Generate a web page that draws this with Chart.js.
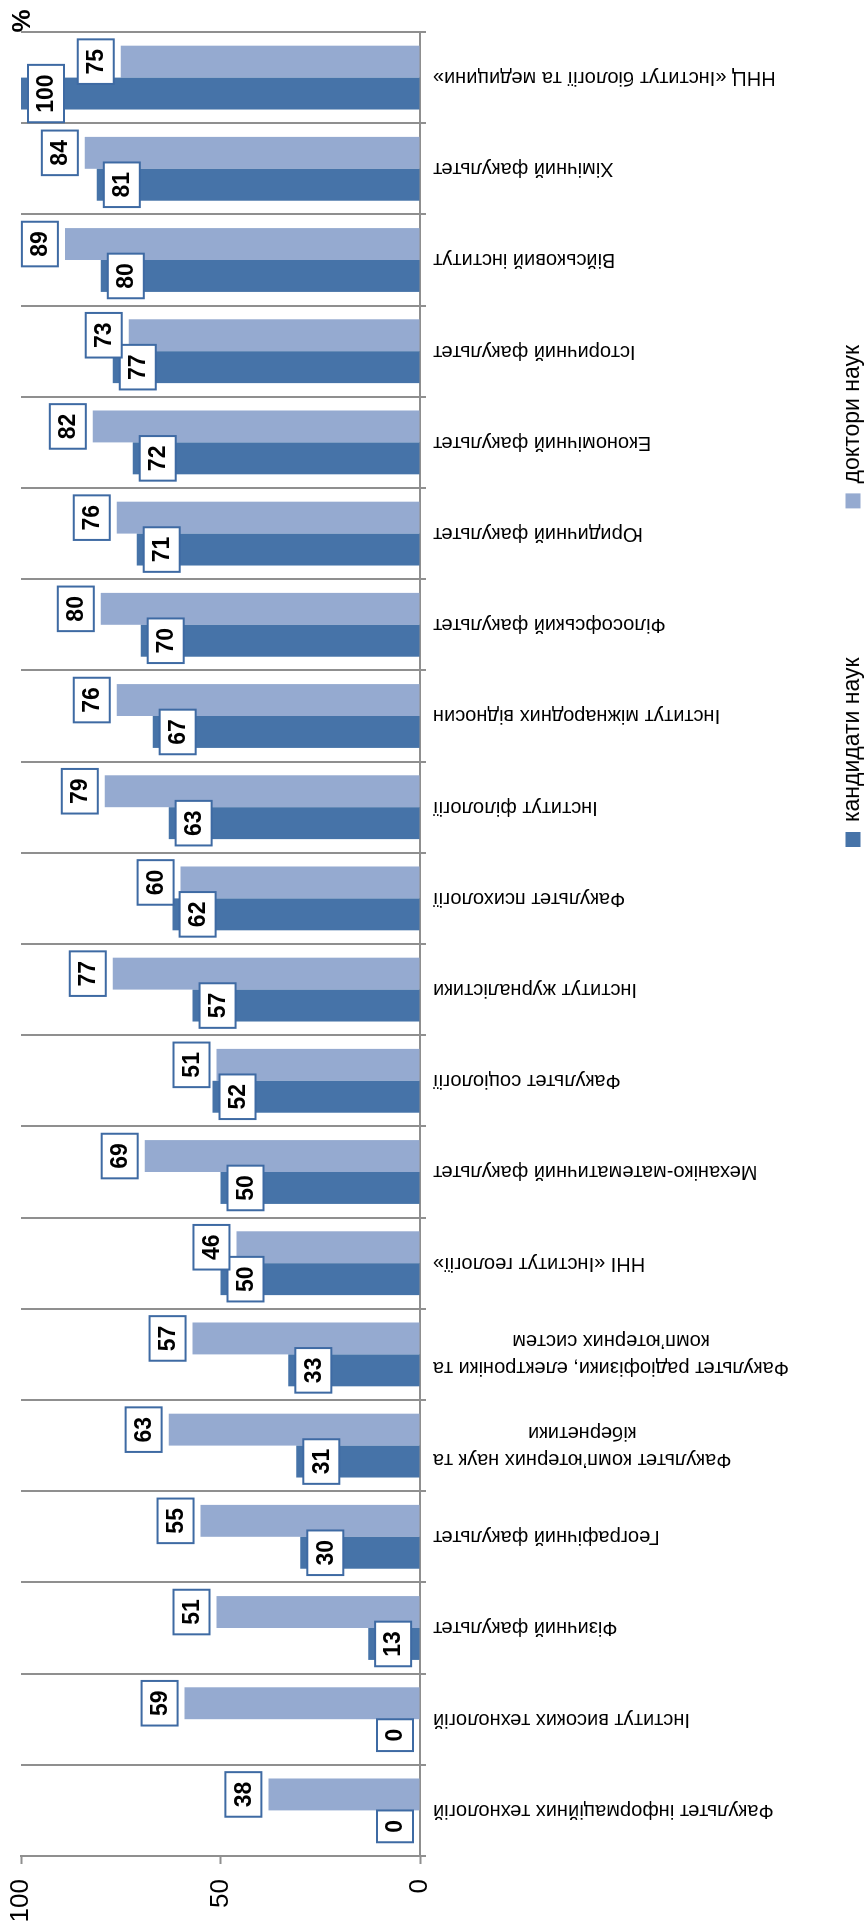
<!DOCTYPE html>
<html><head><meta charset="utf-8">
<script src="https://cdn.jsdelivr.net/npm/chart.js@4.4.0/dist/chart.umd.min.js"></script>
<style>
html,body{margin:0;padding:0;background:#fff;width:867px;height:1928px;overflow:hidden;}
#wrap{position:absolute;left:0;top:0;width:1928px;height:867px;transform-origin:0 0;transform:translateY(1928px) rotate(-90deg);}
canvas{display:block;}
</style></head><body>
<div id="wrap"><canvas id="c" width="1928" height="867"></canvas></div>
<script>
const categories = [
  "Факультет інформаційних технологій",
  "Інститут високих технологій",
  "Фізичний факультет",
  "Географічний факультет",
  ["Факультет комп’ютерних наук та", "кібернетики"],
  ["Факультет радіофізики, електроніки та", "комп’ютерних систем"],
  "ННІ «Інститут геології»",
  "Механіко-математичний факультет",
  "Факультет соціології",
  "Інститут журналістики",
  "Факультет психології",
  "Інститут філології",
  "Інститут міжнародних відносин",
  "Філософський факультет",
  "Юридичний факультет",
  "Економічний факультет",
  "Історичний факультет",
  "Військовий інститут",
  "Хімічний факультет",
  "ННЦ «Інститут біології та медицини»"
];
const candidates = [0, 0, 13, 30, 31, 33, 50, 50, 52, 57, 62, 63, 67, 70, 71, 72, 77, 80, 81, 100];
const doctors    = [38, 59, 51, 55, 63, 57, 46, 69, 51, 77, 60, 79, 76, 80, 76, 82, 73, 89, 84, 75];
const seriesNames = ["кандидати наук", "доктори наук"];
const valueTicks = [0, 50, 100];
const unitLabel = "%";

const FONT = "'Liberation Sans', Arial, sans-serif";
const GRID = '#8f8f8f';

const catLabelPlugin = {
  id: 'catLabels',
  afterDraw(chart) {
    const ctx = chart.ctx, xs = chart.scales.x, area = chart.chartArea;
    ctx.save();
    ctx.font = '20px ' + FONT;
    ctx.fillStyle = '#000';
    ctx.textAlign = 'center';
    ctx.textBaseline = 'middle';
    const lh = 27;
    categories.forEach((lab, i) => {
      const lines = Array.isArray(lab) ? lab : [lab];
      const maxW = Math.max(...lines.map(l => ctx.measureText(l).width));
      const px = xs.getPixelForValue(i);
      ctx.save();
      ctx.translate(px, area.bottom + 13);
      ctx.rotate(-Math.PI / 2);
      lines.forEach((l, j) => {
        ctx.fillText(l, -maxW / 2, (j - (lines.length - 1) / 2) * lh);
      });
      ctx.restore();
    });
    ctx.restore();
  }
};

const valueLabelPlugin = {
  id: 'valueLabels',
  afterDatasetsDraw(chart) {
    const ctx = chart.ctx;
    ctx.save();
    ctx.font = 'bold 23px ' + FONT;
    ctx.textAlign = 'center';
    ctx.textBaseline = 'middle';
    const H = 36, gap = 7;
    chart.data.datasets.forEach((ds, di) => {
      const meta = chart.getDatasetMeta(di);
      meta.data.forEach((bar, i) => {
        const txt = String(ds.data[i]);
        const w = ctx.measureText(txt).width + 19;
        let top;
        if (di === 0) top = Math.min(bar.y + gap, bar.base - gap - H);
        else top = bar.y - gap - H;
        const left = bar.x - w / 2;
        ctx.fillStyle = '#fff';
        ctx.fillRect(left, top, w, H);
        ctx.lineWidth = 2;
        ctx.strokeStyle = '#3E6AA3';
        ctx.strokeRect(left, top, w, H);
        ctx.fillStyle = '#000';
        ctx.fillText(txt, bar.x, top + H / 2 + 1);
      });
    });
    ctx.restore();
  }
};

const legendPlugin = {
  id: 'legendDraw',
  afterDraw(chart) {
    const ctx = chart.ctx;
    ctx.save();
    ctx.font = '23px ' + FONT;
    ctx.textBaseline = 'middle';
    ctx.textAlign = 'left';
    let x = 1081;
    const cy = 853;
    chart.data.datasets.forEach(ds => {
      ctx.fillStyle = ds.backgroundColor;
      ctx.fillRect(x, cy - 7.5, 15, 15);
      ctx.fillStyle = '#000';
      ctx.fillText(ds.label, x + 25, cy);
      x += 25 + ctx.measureText(ds.label).width + 149;
    });
    ctx.fillStyle = '#000';
    ctx.font = 'bold 26px ' + FONT;
    ctx.textAlign = 'center';
    ctx.fillText(unitLabel, 1907, 23);
    ctx.restore();
  }
};

new Chart(document.getElementById('c'), {
  type: 'bar',
  data: {
    labels: categories,
    datasets: [
      { label: seriesNames[0], data: candidates, backgroundColor: '#4673A8', borderWidth: 0, categoryPercentage: 0.7, barPercentage: 1.0 },
      { label: seriesNames[1], data: doctors, backgroundColor: '#95AAD0', borderWidth: 0, categoryPercentage: 0.7, barPercentage: 1.0 }
    ]
  },
  options: {
    responsive: false,
    animation: false,
    layout: { padding: { top: 21, right: 32, left: 0, bottom: 0 } },
    plugins: { legend: { display: false }, tooltip: { enabled: false } },
    scales: {
      x: {
        type: 'category',
        offset: true,
        grid: { offset: true, color: GRID, lineWidth: 2, drawTicks: true, tickLength: 6, tickColor: GRID, tickWidth: 2 },
        border: { display: true, color: GRID, width: 2 },
        ticks: { display: false },
        afterFit(s) { s.height = 447; s.paddingLeft = 0; s.paddingRight = 0; }
      },
      y: {
        min: 0, max: 100,
        afterBuildTicks(s) { s.ticks = valueTicks.map(v => ({ value: v })); },
        grid: { drawOnChartArea: false, drawTicks: true, tickLength: 8, tickColor: GRID, tickWidth: 2, color: GRID },
        border: { display: true, color: GRID, width: 2 },
        ticks: { font: { size: 26, family: FONT }, color: '#000', padding: 15 },
        afterFit(s) { s.width = 72; s.paddingTop = 0; s.paddingBottom = 0; }
      }
    }
  },
  plugins: [valueLabelPlugin, catLabelPlugin, legendPlugin]
});
</script>
</body></html>
